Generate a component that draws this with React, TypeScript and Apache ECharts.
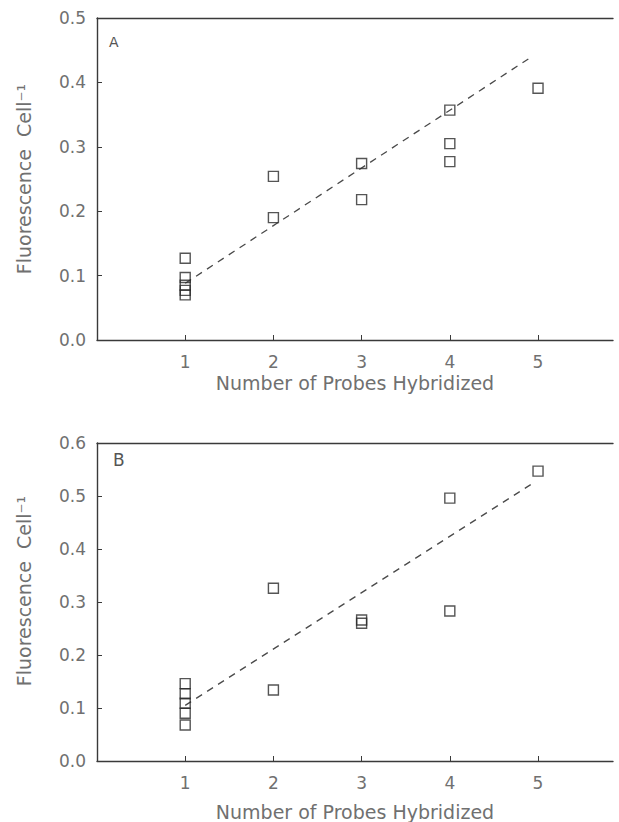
import React, { useEffect, useRef } from "react";
import * as echarts from "echarts";

// Panel A data
const aX = [1, 1, 1, 1, 1, 2, 2, 3, 3, 4, 4, 4, 5];
const aY = [0.127, 0.097, 0.085, 0.077, 0.07, 0.254, 0.19, 0.274, 0.218, 0.357, 0.305, 0.277, 0.391];
const aFitX = [1, 4.93];
const aFitY = [0.088, 0.44];

// Panel B data
const bX = [1, 1, 1, 1, 1, 2, 2, 3, 3, 4, 4, 5];
const bY = [0.146, 0.127, 0.109, 0.09, 0.068, 0.326, 0.134, 0.266, 0.26, 0.496, 0.283, 0.547];
const bFitX = [1, 4.95];
const bFitY = [0.105, 0.525];

const xTickValues = [1, 2, 3, 4, 5];
const xTitle = "Number of Probes Hybridized";
const yTitle = "Fluorescence  Cell\u207B\u00B9";

const FONT = "DejaVu Sans";
const TEXT = "#707070";
const LINE = "#3a3a3a";

function zip(xs: number[], ys: number[]) {
  return xs.map((x, i) => [x, ys[i]]);
}

export default function App() {
  const ref = useRef<HTMLDivElement>(null);
  useEffect(() => {
    if (!ref.current) return;
    const chart = echarts.init(ref.current, null, { renderer: "svg" });
    const grids = [
      { left: 97, top: 18, width: 516, height: 322 },
      { left: 97, top: 443, width: 516, height: 318 },
    ];
    const xMax = 5.85;
    const bottomX = (gi: number, gap: number) => ({
      type: "value",
      gridIndex: gi,
      min: 0,
      max: xMax,
      position: "bottom",
      name: xTitle,
      nameLocation: "middle",
      nameGap: gap,
      nameTextStyle: { fontFamily: FONT, fontSize: 19, color: TEXT },
      axisLine: { show: true, lineStyle: { color: LINE, width: 1.4 } },
      axisTick: { show: true, inside: true, length: 5, customValues: xTickValues, lineStyle: { color: LINE } },
      axisLabel: { show: true, customValues: xTickValues, margin: 13, fontFamily: FONT, fontSize: 17, color: TEXT },
      splitLine: { show: false },
    });
    const topX = (gi: number) => ({
      type: "value",
      gridIndex: gi,
      min: 0,
      max: xMax,
      position: "top",
      axisLine: { show: true, lineStyle: { color: LINE, width: 1.4 } },
      axisTick: { show: false },
      axisLabel: { show: false },
      splitLine: { show: false },
    });
    const yAx = (gi: number, max: number, pad: number) => ({
      type: "value",
      gridIndex: gi,
      min: 0,
      max,
      interval: 0.1,
      name: yTitle,
      nameLocation: "middle",
      nameRotate: 90,
      nameGap: 64,
      nameTextStyle: { fontFamily: FONT, fontSize: 19, color: TEXT, padding: [0, 0, 0, pad] },
      axisLine: { show: true, lineStyle: { color: LINE, width: 1.4 } },
      axisTick: { show: true, inside: true, length: 5, lineStyle: { color: LINE } },
      axisLabel: {
        show: true,
        margin: 11,
        fontFamily: FONT,
        fontSize: 17,
        color: TEXT,
        formatter: (v: number) => v.toFixed(1),
      },
      splitLine: { show: false },
    });
    const scatter = (xi: number, yi: number, xs: number[], ys: number[]) => ({
      type: "scatter",
      xAxisIndex: xi,
      yAxisIndex: yi,
      symbol: "rect",
      symbolSize: 10,
      itemStyle: { color: "rgba(0,0,0,0)", borderColor: "#2a2a2a", borderWidth: 1.4 },
      data: zip(xs, ys),
      z: 3,
    });
    const fit = (xi: number, yi: number, xs: number[], ys: number[]) => ({
      type: "line",
      xAxisIndex: xi,
      yAxisIndex: yi,
      symbol: "none",
      lineStyle: { color: "#4a4a4a", width: 1.3, type: [7, 6] },
      data: zip(xs, ys),
      z: 2,
    });
    chart.setOption({
      animation: false,
      backgroundColor: "#ffffff",
      grid: grids,
      xAxis: [bottomX(0, 33), topX(0), bottomX(1, 41), topX(1)],
      yAxis: [yAx(0, 0.5, 0), yAx(1, 0.6, 22)],
      series: [
        fit(0, 0, aFitX, aFitY),
        scatter(0, 0, aX, aY),
        fit(2, 1, bFitX, bFitY),
        scatter(2, 1, bX, bY),
      ],
      graphic: [
        { type: "text", left: 109, top: 35, style: { text: "A", fontFamily: FONT, fontSize: 14, fill: "#555" } },
        { type: "text", left: 113, top: 451, style: { text: "B", fontFamily: FONT, fontSize: 17, fill: "#555" } },
      ],
    });
    return () => chart.dispose();
  }, []);
  return (
    <div
      ref={ref}
      style={{ position: "fixed", left: 0, top: 0, width: 619, height: 822, background: "#fff" }}
    />
  );
}
